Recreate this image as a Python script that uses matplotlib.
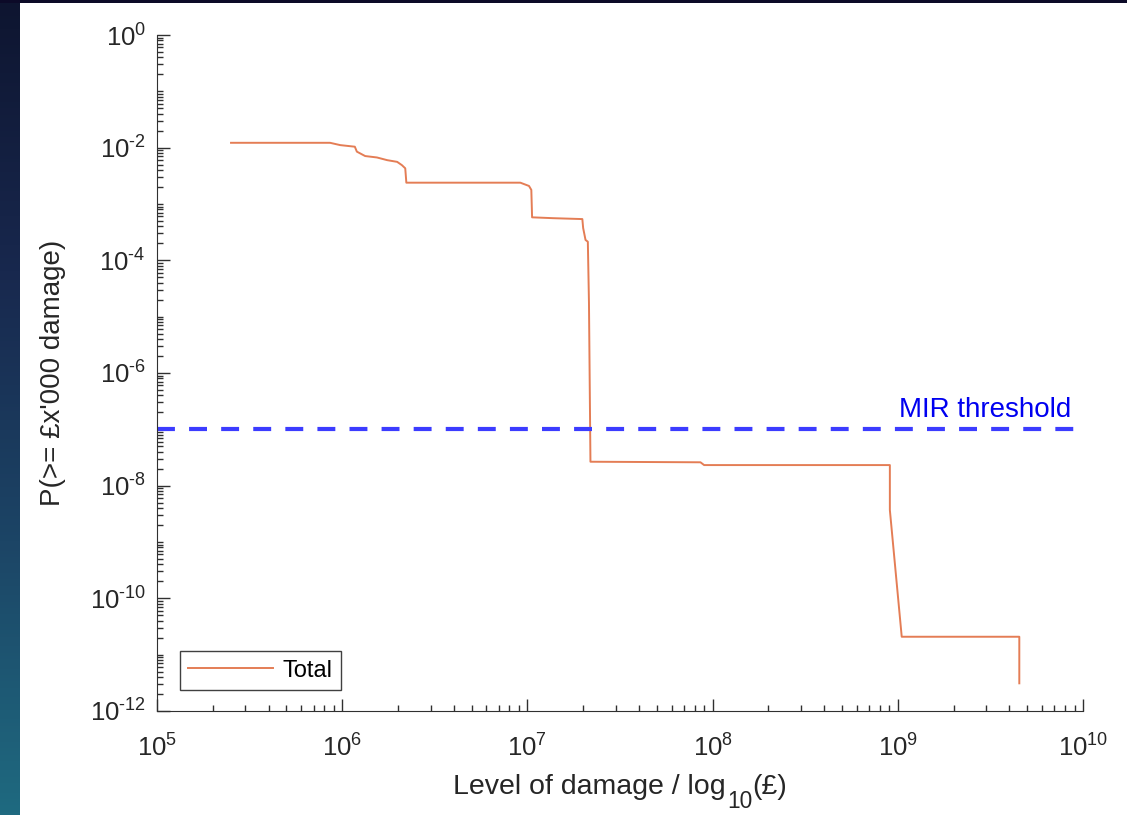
import numpy as np
import matplotlib.pyplot as plt
from matplotlib.colors import LinearSegmentedColormap
from matplotlib.ticker import FixedLocator, NullFormatter

plt.rcParams['font.family'] = ['Liberation Sans', 'DejaVu Sans']
plt.rcParams['mathtext.fontset'] = 'custom'
plt.rcParams['mathtext.rm'] = 'Liberation Sans'
plt.rcParams['mathtext.it'] = 'Liberation Sans'

# exceedance curve
damage = [2.51e5, 8.6e5, 9.76e5, 1.17e6, 1.2e6, 1.33e6, 1.54e6, 1.75e6, 1.98e6,
          2.1e6, 2.19e6, 2.22e6, 9.16e6, 1.02e7, 1.05e7, 1.06e7, 1.38e7, 1.98e7,
          2.0e7, 2.06e7, 2.12e7, 2.15e7, 2.19e7, 8.6e7, 9.0e7, 9.06e8, 9.06e8,
          1.05e9, 4.53e9, 4.53e9]
prob = [1.22e-2, 1.22e-2, 1.11e-2, 1.04e-2, 8.5e-3, 7.1e-3, 6.7e-3, 6.0e-3, 5.6e-3,
        4.9e-3, 4.3e-3, 2.39e-3, 2.39e-3, 2.09e-3, 1.78e-3, 5.8e-4, 5.6e-4, 5.4e-4,
        3.75e-4, 2.3e-4, 2.14e-4, 1.75e-5, 2.66e-8, 2.6e-8, 2.32e-8, 2.32e-8, 3.7e-9,
        2.08e-11, 2.08e-11, 3.1e-12]
mir_threshold = 1e-7
series_label = 'Total'
threshold_label = 'MIR threshold'
x_exponents = list(range(5, 11))
y_exponents = list(range(-12, 1, 2))

fig = plt.figure(figsize=(11.27, 8.15), dpi=100, facecolor='white')

# dark slide background strips
bg_left = fig.add_axes([0, 0, 20 / 1127, 1])
grad = np.linspace(0, 1, 256).reshape(-1, 1)
slide = LinearSegmentedColormap.from_list('slide', ['#0e1530', '#18284e', '#1c4566', '#1f6a80'])
bg_left.imshow(grad, aspect='auto', cmap=slide, extent=[0, 1, 1, 0])
bg_left.axis('off')
bg_top = fig.add_axes([0, 1 - 3 / 815, 1, 3 / 815])
bg_top.set_facecolor('#0c0a28')
bg_top.set_xticks([])
bg_top.set_yticks([])
for s in bg_top.spines.values():
    s.set_visible(False)

ax = fig.add_axes([157 / 1127, 1 - 711 / 815, (1083 - 157) / 1127, (711 - 35) / 815])
ax.plot(damage, prob, color='#e47d55', lw=1.4, label=series_label)
ax.axhline(mir_threshold, color='#3c3cff', lw=3, dashes=(4.3, 3.4))
ax.text(8.6e9, mir_threshold * 1.65, threshold_label, color='#0000f0',
        fontsize=20, ha='right', va='baseline')

ax.set_xscale('log')
ax.set_yscale('log')
ax.set_xlim(1e5, 1e10)
ax.set_ylim(1e-12, 1e0)

ax.set_xticks([10.0 ** k for k in x_exponents])
ax.set_xticklabels([r'$10^{\text{%d}}$' % k for k in x_exponents])
ax.set_yticks([10.0 ** k for k in y_exponents])
ax.set_yticklabels([r'$10^{\text{%d}}$' % k for k in y_exponents])
ax.xaxis.set_minor_locator(FixedLocator([m * 10.0 ** d for d in range(5, 10) for m in range(2, 10)]))
ax.yaxis.set_minor_locator(FixedLocator([m * 10.0 ** d for d in range(-12, 0) for m in range(1, 10)
                                         if not (m == 1 and d % 2 == 0)]))
ax.xaxis.set_minor_formatter(NullFormatter())
ax.yaxis.set_minor_formatter(NullFormatter())
ax.tick_params(which='both', direction='in', colors='#303030', labelcolor='#262626',
               labelsize=18.5, width=1)
ax.tick_params(which='major', length=9)
ax.tick_params(which='minor', length=4.5)
ax.tick_params(axis='x', pad=16.5)
ax.tick_params(axis='y', pad=8)
for side in ['top', 'right']:
    ax.spines[side].set_visible(False)
for side in ['left', 'bottom']:
    ax.spines[side].set_color('#303030')

ax.set_ylabel("P(>= £x'000 damage)", fontsize=20, color='#262626')
ax.yaxis.set_label_coords((66 - 157) / 926, 0.5)

# x label with a near full-size subscript, built from chained pieces
lab_size = 20.5
t1 = fig.text(440 / 1127, 1 - 794 / 815, 'Level of damage / log', fontsize=lab_size,
              color='#262626', ha='left', va='baseline')
t2 = ax.annotate('10', xy=(1, 0), xycoords=t1, xytext=(1, -5.5), textcoords='offset points',
                 fontsize=lab_size * 0.8, color='#262626', ha='left', va='baseline',
                 annotation_clip=False)
t3 = ax.annotate('(£)', xy=(1, 0), xycoords=(t2, t1), xytext=(0, 0), textcoords='offset points',
                 fontsize=lab_size, color='#262626', ha='left', va='bottom',
                 annotation_clip=False)
fig.canvas.draw()
r = fig.canvas.get_renderer()
left = t1.get_window_extent(r).x0
right = t3.get_window_extent(r).x1
shift = 620 - (left + right) / 2
x0, y0 = t1.get_position()
t1.set_position((x0 + shift / 1127, y0))

leg = ax.legend(loc='lower left', bbox_to_anchor=((180 - 157) / 926, (711 - 690) / 676),
                borderaxespad=0, fontsize=17, fancybox=False, edgecolor='#404040',
                framealpha=1, handlelength=3.6, handletextpad=0.4, borderpad=0.35)
leg.get_frame().set_linewidth(1)

fig.savefig('out.png', dpi=100, facecolor='white')
